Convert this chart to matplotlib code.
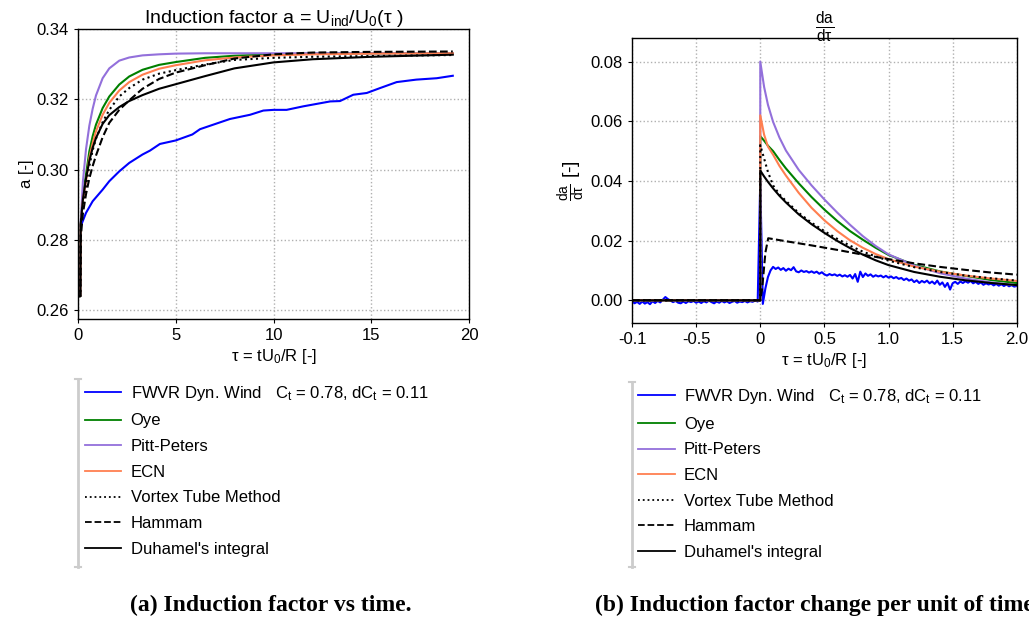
import numpy as np
import matplotlib
matplotlib.use('Agg')
import matplotlib.pyplot as plt
from matplotlib.lines import Line2D

plt.rcParams['font.family'] = ['Liberation Sans', 'DejaVu Sans']
plt.rcParams['mathtext.fontset'] = 'custom'
plt.rcParams['mathtext.rm'] = 'Liberation Sans'
plt.rcParams['mathtext.it'] = 'Liberation Sans'

# ---- (a) induction factor a(tau) ----
tau_a = [0.05, 0.12, 0.14, 0.25, 0.41, 0.58, 0.75, 0.92, 1.26, 1.60, 2.11, 2.62,
         3.30, 4.15, 5.00, 6.50, 8.00, 10.0, 12.0, 15.0, 19.17]
a_oye = [0.2640, 0.2640, 0.2845, 0.2925, 0.2986, 0.3052, 0.3095, 0.3128, 0.3175, 0.3208, 0.3242,
         0.3265, 0.3284, 0.3298, 0.3306, 0.3318, 0.3324, 0.3328, 0.3330, 0.3331, 0.3331]
a_pitt = [0.2640, 0.2640, 0.2850, 0.2965, 0.3058, 0.3125, 0.3173, 0.3211, 0.3260, 0.3288, 0.3310,
          0.3319, 0.3325, 0.3328, 0.3330, 0.3331, 0.3331, 0.3331, 0.3331, 0.3331, 0.3331]
a_ecn = [0.2640, 0.2640, 0.2843, 0.2912, 0.2967, 0.3033, 0.3075, 0.3109, 0.3156, 0.3190, 0.3225,
         0.3249, 0.3270, 0.3287, 0.3297, 0.3311, 0.3319, 0.3325, 0.3328, 0.3330, 0.3331]
a_vortex = [0.2640, 0.2640, 0.2840, 0.2900, 0.2955, 0.3010, 0.3055, 0.3088, 0.3135, 0.3170, 0.3208,
            0.3232, 0.3256, 0.3273, 0.3283, 0.3299, 0.3312, 0.3318, 0.3321, 0.3323, 0.3326]
a_hammam = [0.2640, 0.2640, 0.2806, 0.2875, 0.2930, 0.2975, 0.3010, 0.3040, 0.3092, 0.3133, 0.3170,
            0.3197, 0.3230, 0.3258, 0.3276, 0.3297, 0.3316, 0.3328, 0.3333, 0.3335, 0.3336]
a_duhamel = [0.2640, 0.2640, 0.2845, 0.2915, 0.2975, 0.3025, 0.3062, 0.3090, 0.3130, 0.3155, 0.3178,
             0.3195, 0.3212, 0.3230, 0.3243, 0.3266, 0.3288, 0.3305, 0.3314, 0.3321, 0.3327]

tau_fwvr = [0.14, 0.41, 0.75, 1.26, 1.60, 2.11, 2.62, 3.30, 3.68, 4.19, 5.00, 5.85, 6.24, 7.77,
            8.80, 9.48, 10.0, 10.67, 11.52, 12.9, 13.4, 14.08, 14.77, 15.45, 16.3, 17.3, 18.35, 19.17]
a_fwvr = [0.2839, 0.2877, 0.2910, 0.2943, 0.2967, 0.2995, 0.3019, 0.3043, 0.3054, 0.3073, 0.3083,
          0.3100, 0.3115, 0.3144, 0.3156, 0.3168, 0.3170, 0.3170, 0.3180, 0.3194, 0.3195, 0.3213,
          0.3218, 0.3232, 0.3249, 0.3256, 0.3260, 0.3267]

# ---- (b) da/dtau ----
tau_db = [-1.0, 0.0, 0.0, 0.03, 0.06, 0.1, 0.15, 0.2, 0.3, 0.4, 0.5, 0.6, 0.7, 0.8, 0.9,
          1.0, 1.2, 1.4, 1.6, 1.8, 2.0]
db_pitt = [0, 0, 0.0800, 0.0715, 0.0655, 0.0598, 0.0545, 0.0502, 0.0437, 0.0385, 0.0338, 0.0294,
           0.0253, 0.0215, 0.0182, 0.0154, 0.0117, 0.0091, 0.0073, 0.0060, 0.0050]
db_oye = [0, 0, 0.0550, 0.0535, 0.0518, 0.0500, 0.0470, 0.0442, 0.0392, 0.0346, 0.0304, 0.0266,
          0.0232, 0.0203, 0.0176, 0.0152, 0.0119, 0.0097, 0.0082, 0.0068, 0.0058]
db_ecn = [0, 0, 0.0620, 0.0555, 0.0515, 0.0488, 0.0450, 0.0418, 0.0360, 0.0310, 0.0268, 0.0232,
          0.0201, 0.0176, 0.0155, 0.0138, 0.0113, 0.0096, 0.0083, 0.0073, 0.0065]
db_vortex = [0, 0, 0.0520, 0.0475, 0.0430, 0.0385, 0.0355, 0.0333, 0.0293, 0.0260, 0.0232, 0.0206,
             0.0183, 0.0163, 0.0147, 0.0133, 0.0111, 0.0095, 0.0083, 0.0074, 0.0066]
db_duhamel = [0, 0, 0.0435, 0.0415, 0.0397, 0.0375, 0.0350, 0.0328, 0.0288, 0.0255, 0.0226, 0.0199,
              0.0175, 0.0153, 0.0134, 0.0118, 0.0095, 0.0079, 0.0067, 0.0058, 0.0051]
tau_hammam = [-1.0, 0.0, 0.015, 0.04, 0.062, 0.2, 0.4, 0.6, 0.8, 1.0, 1.2, 1.4, 1.6, 1.8, 2.0]
db_hammam = [0, 0, 0.004, 0.016, 0.0208, 0.0198, 0.0184, 0.0169, 0.0153, 0.0138, 0.0124, 0.0112,
             0.0102, 0.0093, 0.0086]

# FWVR derivative sampled every 0.02 from -1.0 to 2.0
db_fwvr_pre = [-0.0003, -0.0010, -0.0005, -0.0012, -0.0004, -0.0011, -0.0006, -0.0013, -0.0003, -0.0009,
               -0.0002, -0.0007, 0.0002, 0.0011, 0.0004, -0.0001, -0.0006, -0.0002, -0.0008, -0.0010,
               -0.0004, -0.0009, -0.0003, -0.0006, -0.0002, -0.0008, -0.0004, -0.0009, -0.0003, -0.0007,
               -0.0001, -0.0006, -0.0010, -0.0004, -0.0008, -0.0002, -0.0007, -0.0003, -0.0009, -0.0005,
               -0.0002, -0.0008, -0.0004, -0.0006, -0.0002, -0.0007, -0.0003, -0.0005, -0.0001, -0.0004]
db_fwvr_post = [0.0400, -0.0012, 0.0040, 0.0078, 0.0100, 0.0112, 0.0105, 0.0110, 0.0102, 0.0108,
                0.0099, 0.0106, 0.0101, 0.0111, 0.0097, 0.0094, 0.0100, 0.0095, 0.0098, 0.0093,
                0.0097, 0.0092, 0.0096, 0.0089, 0.0094, 0.0087, 0.0083, 0.0088, 0.0084, 0.0087,
                0.0082, 0.0086, 0.0080, 0.0084, 0.0079, 0.0085, 0.0073, 0.0088, 0.0062, 0.0096,
                0.0078, 0.0090, 0.0082, 0.0087, 0.0079, 0.0084, 0.0080, 0.0083, 0.0077, 0.0082,
                0.0076, 0.0080, 0.0074, 0.0078, 0.0072, 0.0075, 0.0068, 0.0073, 0.0066, 0.0070,
                0.0061, 0.0067, 0.0058, 0.0065, 0.0060, 0.0066, 0.0057, 0.0063, 0.0055, 0.0066,
                0.0052, 0.0060, 0.0045, 0.0058, 0.0036, 0.0057, 0.0062, 0.0055, 0.0063, 0.0058,
                0.0064, 0.0059, 0.0065, 0.0057, 0.0062, 0.0055, 0.0060, 0.0052, 0.0057, 0.0053,
                0.0056, 0.0050, 0.0055, 0.0049, 0.0054, 0.0048, 0.0053, 0.0047, 0.0051, 0.0046,
                0.0048]
db_fwvr = db_fwvr_pre + db_fwvr_post
tau_fwvr_db = np.round(-1.0 + 0.02 * np.arange(len(db_fwvr)), 2)

labels = ['FWVR Dyn. Wind   C$_{t}$ = 0.78, dC$_{t}$ = 0.11', 'Oye', 'Pitt-Peters', 'ECN',
          'Vortex Tube Method', 'Hammam', "Duhamel's integral"]
c_blue = '#0000ff'
c_green = '#008000'
c_purple = '#9370db'
c_orange = '#ff7f50'
lw = 1.5

fig = plt.figure(figsize=(10.29, 6.24), dpi=100)
ax1 = fig.add_axes([0.0758, 0.4888, 0.380, 0.4647])
ax2 = fig.add_axes([0.6142, 0.4819, 0.3739, 0.4577])

# left panel
ax1.plot(tau_fwvr, a_fwvr, color=c_blue, lw=lw)
ax1.plot(tau_a, a_oye, color=c_green, lw=lw)
ax1.plot(tau_a, a_pitt, color=c_purple, lw=lw)
ax1.plot(tau_a, a_ecn, color=c_orange, lw=lw)
ax1.plot(tau_a, a_vortex, color='black', lw=lw, ls=':')
ax1.plot(tau_a, a_hammam, color='black', lw=lw, ls='--')
ax1.plot(tau_a, a_duhamel, color='black', lw=lw)
ax1.set_xlim(0, 20)
ax1.set_ylim(0.2575, 0.34)
ax1.set_xticks([0, 5, 10, 15, 20])
ax1.set_yticks([0.26, 0.28, 0.30, 0.32, 0.34])
ax1.set_yticklabels(['0.26', '0.28', '0.30', '0.32', '0.34'])
ax1.set_title('Induction factor a = U$_{ind}$/U$_{0}$(τ )', fontsize=14, pad=4)
ax1.set_ylabel('a [-]', fontsize=12, labelpad=2)
ax1.set_xlabel('τ = tU$_{0}$/R [-]', fontsize=12, labelpad=3)

# right panel
ax2.plot(tau_fwvr_db, db_fwvr, color=c_blue, lw=lw)
ax2.plot(tau_db, db_oye, color=c_green, lw=lw)
ax2.plot(tau_db, db_pitt, color=c_purple, lw=lw)
ax2.plot(tau_db, db_ecn, color=c_orange, lw=lw)
ax2.plot(tau_db, db_vortex, color='black', lw=lw, ls=':')
ax2.plot(tau_hammam, db_hammam, color='black', lw=lw, ls='--')
ax2.plot(tau_db, db_duhamel, color='black', lw=lw)
ax2.set_xlim(-1, 2)
ax2.set_ylim(-0.0077, 0.088)
ax2.set_xticks([-1, -0.5, 0, 0.5, 1.0, 1.5, 2.0])
ax2.set_xticklabels(['-0.1', '-0.5', '0', '0.5', '1.0', '1.5', '2.0'])
ax2.set_yticks([0, 0.02, 0.04, 0.06, 0.08])
ax2.set_yticklabels(['0.00', '0.02', '0.04', '0.06', '0.08'])
ax2.text(0.5, 1.04, r'$\frac{da}{d\tau}$', transform=ax2.transAxes, ha='center', va='center',
         fontsize=16)
ax2.set_ylabel(r'$\frac{da}{d\tau}$ [-]', fontsize=14, labelpad=2)
ax2.set_xlabel('τ = tU$_{0}$/R [-]', fontsize=12, labelpad=3)

for ax in (ax1, ax2):
    ax.grid(True, color='#b0b0b0', ls=':', lw=1)
    ax.tick_params(labelsize=12, direction='out', length=3, width=0.8)
    for s in ax.spines.values():
        s.set_linewidth(1.0)

handles = [Line2D([], [], color=c_blue, lw=1.3), Line2D([], [], color=c_green, lw=1.3),
           Line2D([], [], color=c_purple, lw=1.3), Line2D([], [], color=c_orange, lw=1.3),
           Line2D([], [], color='black', lw=1.3, ls=':'), Line2D([], [], color='black', lw=1.3, ls='--'),
           Line2D([], [], color='black', lw=1.3)]

W, H = 1029.0, 624.0
for x0, y0, xb, yb0, yb1 in [(84.7, 383.7, 77.7, 379.0, 566.7), (638.0, 387.0, 631.7, 382.0, 567.0)]:
    fig.legend(handles, labels, loc='upper left', bbox_to_anchor=(x0 / W, 1 - y0 / H),
               bbox_transform=fig.transFigure, frameon=False, fontsize=12,
               handlelength=2.2, handletextpad=0.55, labelspacing=0.64, borderpad=0, borderaxespad=0)
    fig.add_artist(Line2D([xb / W, xb / W], [1 - yb0 / H, 1 - yb1 / H], color='#cccccc', lw=2,
                          transform=fig.transFigure))
    for yy in (yb0, yb1):
        fig.add_artist(Line2D([(xb - 3) / W, (xb + 3) / W], [1 - yy / H, 1 - yy / H], color='#cccccc',
                              lw=1.5, transform=fig.transFigure))

fig.text(270.8 / W, 1 - 605 / H, '(a) Induction factor vs time.', ha='center', va='center',
         fontsize=17, fontweight='bold', family='Liberation Serif')
fig.text(595 / W, 1 - 605 / H, '(b) Induction factor change per unit of time.', ha='left', va='center',
         fontsize=17, fontweight='bold', family='Liberation Serif')

fig.savefig('out.png', dpi=100)
